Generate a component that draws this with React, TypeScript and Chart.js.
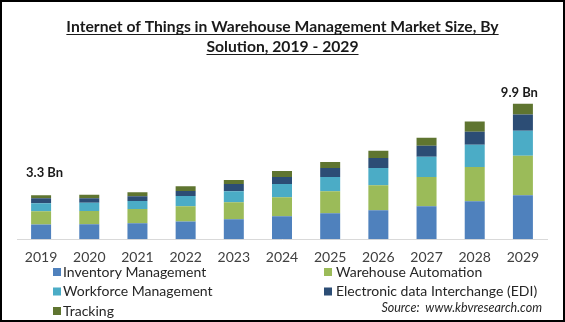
import React, { useEffect, useRef } from "react";
import { Chart, registerables } from "chart.js";

Chart.register(...registerables);

const years = ["2019", "2020", "2021", "2022", "2023", "2024", "2025", "2026", "2027", "2028", "2029"];
const inventory = [1.08, 1.09, 1.16, 1.3, 1.45, 1.67, 1.89, 2.11, 2.41, 2.78, 3.22];
const warehouse = [0.96, 0.97, 1.05, 1.1, 1.25, 1.4, 1.62, 1.84, 2.14, 2.5, 2.87];
const workforce = [0.59, 0.6, 0.59, 0.76, 0.81, 0.96, 1.03, 1.25, 1.47, 1.62, 1.84];
const edi = [0.37, 0.33, 0.34, 0.37, 0.52, 0.52, 0.66, 0.74, 0.81, 0.96, 1.18];
const tracking = [0.22, 0.26, 0.29, 0.34, 0.29, 0.44, 0.44, 0.52, 0.59, 0.74, 0.79];

const seriesNames = [
  "Inventory Management",
  "Warehouse Automation",
  "Workforce Management",
  "Electronic data Interchange (EDI)",
  "Tracking",
];
const seriesColors = ["#4F81BD", "#9BBB59", "#4BACC6", "#2C4D75", "#5F7530"];

const titleLines = [
  "Internet of Things in Warehouse Management Market Size, By",
  "Solution, 2019 - 2029",
];
const labelIndexes = [0, 10];
const labelTexts = ["3.3 Bn", "9.9 Bn"];
const sourceText = "Source:  www.kbvresearch.com";

const FONT = "Lato, 'Open Sans', sans-serif";

const decorPlugin = {
  id: "decor",
  afterDraw(chart: any) {
    const ctx = chart.ctx as CanvasRenderingContext2D;
    const W = chart.width;
    const H = chart.height;
    ctx.save();
    // border
    ctx.strokeStyle = "#000";
    ctx.lineWidth = 2;
    ctx.strokeRect(1, 1, W - 2, H - 2);

    // title
    ctx.fillStyle = "#1a1a1a";
    ctx.strokeStyle = "#1a1a1a";
    ctx.font = `bold 15.7px ${FONT}`;
    ctx.textAlign = "center";
    ctx.textBaseline = "alphabetic";
    const titleY = [32, 52];
    titleLines.forEach((t, i) => {
      const cx = W / 2;
      ctx.fillText(t, cx, titleY[i]);
      const w = ctx.measureText(t).width;
      ctx.lineWidth = 1.2;
      ctx.beginPath();
      ctx.moveTo(cx - w / 2, titleY[i] + 2.5);
      ctx.lineTo(cx + w / 2, titleY[i] + 2.5);
      ctx.stroke();
    });

    // value labels
    const xs = chart.scales.x;
    const ys = chart.scales.y;
    const labelDx = [3.5, -3.5];
    const labelDy = [22, 11];
    ctx.font = `bold 13px ${FONT}`;
    ctx.fillStyle = "#1a1a1a";
    ctx.textBaseline = "middle";
    labelIndexes.forEach((idx, i) => {
      const total =
        inventory[idx] + warehouse[idx] + workforce[idx] + edi[idx] + tracking[idx];
      const x = xs.getPixelForValue(idx) + labelDx[i];
      const y = ys.getPixelForValue(total) - labelDy[i];
      ctx.fillText(labelTexts[i], x, y);
    });

    // legend
    const colX = [[53, 63], [324, 336]];
    const rowY = [272, 291.5, 311];
    ctx.font = `14px ${FONT}`;
    ctx.textAlign = "left";
    ctx.textBaseline = "middle";
    seriesNames.forEach((name, i) => {
      const c = i % 2;
      const r = Math.floor(i / 2);
      ctx.fillStyle = seriesColors[i];
      ctx.fillRect(colX[c][0], rowY[r] - 4, 8, 8);
      ctx.fillStyle = "#262626";
      ctx.fillText(name, colX[c][1], rowY[r]);
    });

    // source
    ctx.font = `italic 12.5px ${FONT}`;
    ctx.textAlign = "right";
    ctx.fillStyle = "#262626";
    ctx.fillText(sourceText, 542, 308);
    ctx.restore();
  },
};

export default function App() {
  const ref = useRef<HTMLCanvasElement | null>(null);
  useEffect(() => {
    document.body.style.margin = "0";
    const data = [inventory, warehouse, workforce, edi, tracking];
    const chart = new Chart(ref.current as HTMLCanvasElement, {
      type: "bar",
      data: {
        labels: years,
        datasets: data.map((d, i) => ({
          label: seriesNames[i],
          data: d,
          backgroundColor: seriesColors[i],
          borderWidth: 0,
          categoryPercentage: 1,
          barPercentage: 0.415,
        })),
      },
      options: {
        animation: false,
        responsive: false,
        devicePixelRatio: 1,
        layout: { padding: { left: 17, right: 18, top: 75, bottom: 54 } },
        plugins: {
          legend: { display: false },
          title: { display: false },
          tooltip: { enabled: false },
        },
        scales: {
          x: {
            stacked: true,
            grid: { display: false },
            border: { display: true, color: "#D9D9D9", width: 1 },
            ticks: {
              color: "#404040",
              font: { family: FONT, size: 14 },
              padding: 2,
              maxRotation: 0,
            },
          },
          y: {
            stacked: true,
            display: false,
            min: 0,
            max: 12,
          },
        },
      },
      plugins: [decorPlugin],
    });
    return () => chart.destroy();
  }, []);
  return (
    <div style={{ width: 565, height: 322, background: "#fff" }}>
      <canvas ref={ref} width={565} height={322} style={{ display: "block" }} />
    </div>
  );
}
